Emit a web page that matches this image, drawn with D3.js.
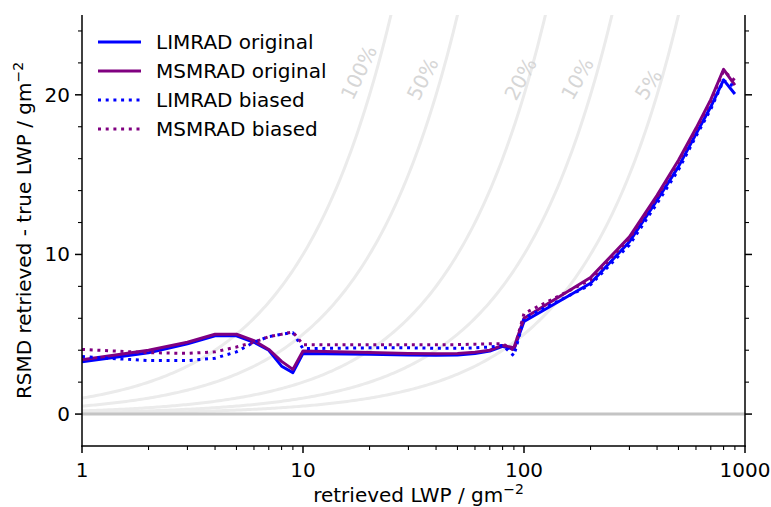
<!DOCTYPE html>
<html><head><meta charset="utf-8">
<script src="https://cdn.jsdelivr.net/npm/d3@7"></script>
<style>body{margin:0;background:#fff}svg{display:block}text{font-family:"DejaVu Sans",sans-serif}</style>
</head><body><svg id="c" width="771" height="507"></svg>
<script>
// ---- data ----
const lwp = [1,2,3,4,5,6,7,8,9,10,20,30,40,50,60,70,80,90,100,200,300,400,500,600,700,800,900];
const limradOriginal = [3.27,3.84,4.4,4.9,4.9,4.5,4.0,3.0,2.6,3.8,3.75,3.7,3.68,3.7,3.8,3.95,4.25,4.05,5.8,8.2,10.8,13.4,15.5,17.55,19.25,20.94,20.05];
const msmradOriginal = [3.4,4.0,4.5,5.0,5.0,4.6,4.05,3.3,2.8,3.95,3.85,3.8,3.78,3.8,3.88,4.0,4.3,4.15,6.0,8.55,11.1,13.7,15.9,17.9,19.7,21.6,20.6];
const limradBiased = [3.6,3.35,3.35,3.5,3.9,4.5,4.85,5.0,5.1,4.1,4.15,4.15,4.12,4.12,4.15,4.2,4.3,3.65,6.0,8.1,10.6,13.2,15.3,17.4,19.1,20.9,20.5];
const msmradBiased = [4.05,3.85,3.8,3.9,4.2,4.5,4.85,5.0,5.15,4.35,4.35,4.35,4.35,4.35,4.38,4.4,4.4,4.0,6.3,8.4,11.0,13.6,15.8,17.8,19.6,21.5,20.9];
const seriesNames = ["LIMRAD original","MSMRAD original","LIMRAD biased","MSMRAD biased"];
const isoFractions = [1.0,0.5,0.2,0.1,0.05];
const isoLabels = ["100%","50%","20%","10%","5%"];
const isoLabelX = [17.9,34.8,96.5,174.5,366];
const isoLabelY = [21.4,21.0,21.0,21.0,20.65];
const isoLabelAngle = [-64,-63,-61,-60,-57];
const xTickLabels = ["1","10","100","1000"];
const yTickLabels = ["0","10","20"];

// ---- layout ----
const svg = d3.select("#c");
const L=82,R=745,T=15,B=446;
const x = d3.scaleLog().domain([1,1000]).range([L,R]);
const y = d3.scaleLinear().domain([-2,25]).range([B,T]);
const FS = 20;

svg.append("defs").append("clipPath").attr("id","clip")
  .append("rect").attr("x",L).attr("y",T).attr("width",R-L).attr("height",B-T);
const plot = svg.append("g").attr("clip-path","url(#clip)");

// iso curves
const isoX = d3.range(0,3.0001,0.01).map(e=>Math.pow(10,e));
isoFractions.forEach(f=>{
  plot.append("path").datum(isoX)
    .attr("d", d3.line().x(d=>x(d)).y(d=>y(f*d)))
    .attr("fill","none").attr("stroke","#ebebeb").attr("stroke-width",3);
});
// zero line
plot.append("line").attr("x1",x(1)).attr("x2",x(1000)).attr("y1",y(0)).attr("y2",y(0))
  .attr("stroke","#c4c4c4").attr("stroke-width",3);

// iso labels
isoLabels.forEach((t,i)=>{
  const px=x(isoLabelX[i]), py=y(isoLabelY[i]);
  svg.append("text").attr("transform",`translate(${px},${py}) rotate(${isoLabelAngle[i]})`)
    .attr("text-anchor","middle").attr("dominant-baseline","central")
    .attr("fill","#d6d6d6").attr("font-size",FS).text(t);
});

// data lines
const styles = [
  {data:limradOriginal,color:"#0000ff",dash:null},
  {data:msmradOriginal,color:"#800080",dash:null},
  {data:limradBiased,color:"#0000ff",dash:"3 4.7"},
  {data:msmradBiased,color:"#800080",dash:"3 4.7"}
];
const line = d3.line().x((d,i)=>x(lwp[i])).y(d=>y(d));
styles.forEach(s=>{
  const p = plot.append("path").datum(s.data).attr("d",line)
    .attr("fill","none").attr("stroke",s.color).attr("stroke-width",3)
    .attr("stroke-linejoin","round");
  if(s.dash) p.attr("stroke-dasharray",s.dash);
});

// axes
const ax = svg.append("g").attr("stroke","#000");
const majorX=[1,10,100,1000];
const minorX=[];
[1,10,100].forEach(d=>{for(let k=2;k<=9;k++) minorX.push(d*k);});
const majorY=[0,10,20];
const minorY=d3.range(-2,25.01,2).filter(v=>v%10!==0 && v>-2);

ax.append("line").attr("x1",L).attr("x2",L).attr("y1",T).attr("y2",B+0.75).attr("stroke-width",1.5);
ax.append("line").attr("x1",R).attr("x2",R).attr("y1",T).attr("y2",B+0.75).attr("stroke-width",1.5);
ax.append("line").attr("x1",L-0.75).attr("x2",R+0.75).attr("y1",B).attr("y2",B).attr("stroke-width",1.5);

majorX.forEach(v=>ax.append("line").attr("x1",x(v)).attr("x2",x(v)).attr("y1",B).attr("y2",B+7).attr("stroke-width",1.5));
minorX.forEach(v=>ax.append("line").attr("x1",x(v)).attr("x2",x(v)).attr("y1",B).attr("y2",B+4).attr("stroke-width",1.1));
majorY.forEach(v=>{
  ax.append("line").attr("x1",L-7).attr("x2",L).attr("y1",y(v)).attr("y2",y(v)).attr("stroke-width",1.5);
  ax.append("line").attr("x1",R).attr("x2",R+7).attr("y1",y(v)).attr("y2",y(v)).attr("stroke-width",1.5);
});
minorY.forEach(v=>{
  ax.append("line").attr("x1",L-4).attr("x2",L).attr("y1",y(v)).attr("y2",y(v)).attr("stroke-width",1.1);
  ax.append("line").attr("x1",R).attr("x2",R+4).attr("y1",y(v)).attr("y2",y(v)).attr("stroke-width",1.1);
});
majorX.forEach((v,i)=>svg.append("text").attr("x",x(v)).attr("y",B+31).attr("text-anchor","middle")
  .attr("font-size",FS).attr("fill","#000").text(xTickLabels[i]));
majorY.forEach((v,i)=>svg.append("text").attr("x",L-12).attr("y",y(v)).attr("text-anchor","end")
  .attr("dominant-baseline","central").attr("font-size",FS).attr("fill","#000").text(yTickLabels[i]));

// axis labels
const xl = svg.append("text").attr("x",(L+R)/2+5).attr("y",502).attr("text-anchor","middle").attr("font-size",FS);
xl.append("tspan").text("retrieved LWP / gm");
xl.append("tspan").attr("dy",-8).attr("font-size",14).text("\u22122");
const yl = svg.append("text").attr("transform",`translate(31,${(T+B)/2}) rotate(-90)`).attr("text-anchor","middle").attr("font-size",FS);
yl.append("tspan").text("RSMD retrieved - true LWP / gm");
yl.append("tspan").attr("dy",-8).attr("font-size",14).text("\u22122");

// legend
const lg = svg.append("g");
styles.forEach((s,i)=>{
  const ly = 42 + i*29;
  const l = lg.append("line").attr("x1",98).attr("x2",141).attr("y1",ly).attr("y2",ly)
    .attr("stroke",s.color).attr("stroke-width",3);
  if(s.dash) l.attr("stroke-dasharray",s.dash);
  lg.append("text").attr("x",156).attr("y",ly).attr("dominant-baseline","central")
    .attr("font-size",FS).attr("fill","#000").text(seriesNames[i]);
});
</script></body></html>
